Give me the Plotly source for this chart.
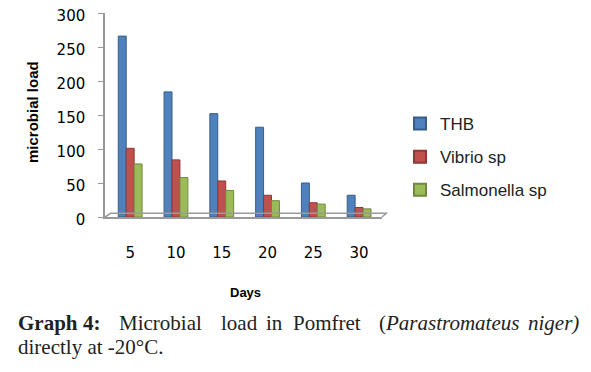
import plotly.graph_objects as go

days = ["5", "10", "15", "20", "25", "30"]
thb = [266, 184, 152, 132, 50, 32]
vibrio = [101, 84, 53, 32, 21, 14]
salmonella = [78, 58, 39, 24, 19, 12]
series_names = ["THB", "Vibrio sp", "Salmonella sp"]
colors = ["#4F81BD", "#C0504D", "#9BBB59"]
edge_colors = ["#385D8A", "#8C3836", "#71893F"]
y_ticks = [0, 50, 100, 150, 200, 250, 300]

fig = go.Figure()
for i, (name, vals) in enumerate(zip(series_names, [thb, vibrio, salmonella])):
    fig.add_trace(go.Bar(
        x=days, y=vals, name=name, legendgroup=name,
        marker=dict(color=colors[i], line=dict(color=edge_colors[i], width=1)),
    ))

OFF = 8  # page body margin
W, H = 591 - 2 * OFF, 372 - 2 * OFF
# desired on-screen plot box: x 105..382, y 13..217
PX0, PX1, PY0, PY1 = 105 - OFF, 382 - OFF, 13 - OFF, 217 - OFF
L, R, T, B = PX0, W - PX1, PY0, H - PY1
PW, PH = PX1 - PX0, PY1 - PY0


def px(x):
    return (x - OFF - PX0) / PW


def py(y):
    return (PY1 - (y - OFF)) / PH


fig.update_layout(
    width=W, height=H,
    margin=dict(l=L, r=R, t=T, b=B, pad=0, autoexpand=False),
    paper_bgcolor="white", plot_bgcolor="white",
    barmode="group", bargap=0.48, bargroupgap=0,
    showlegend=True,
    legend=dict(x=px(400), y=py(106), xanchor="left", yanchor="top",
                font=dict(family="Liberation Sans, Arial", size=17, color="#222"),
                tracegroupgap=8, bgcolor="rgba(0,0,0,0)", itemsizing="constant"),
    xaxis=dict(type="category", range=[-0.55, 5.5], showline=True, linecolor="#999",
               linewidth=1.5, ticks="", ticklabelstandoff=21, automargin=False,
               tickfont=dict(family="DejaVu Sans", size=15, color="black"),
               showgrid=False, zeroline=False),
    yaxis=dict(range=[0, 300], tickvals=y_ticks, showline=True, linecolor="#999",
               linewidth=1.5, ticks="outside", ticklen=5, tickcolor="#999",
               ticklabelstandoff=10, ticklabelshift=3, automargin=False,
               ticklabeloverflow="allow",
               tickfont=dict(family="DejaVu Sans", size=15, color="black"),
               showgrid=False, zeroline=False),
)

# 3D floor back edge
fig.add_shape(type="path", xref="paper", yref="paper",
              path="M 0 0 L 0.02 0.018 L 1.015 0.018 L 1.0 0",
              line=dict(color="#999", width=1.5))

# axis titles
fig.add_annotation(text="<b>microbial load</b>", xref="paper", yref="paper",
                   x=px(32), y=py(112), xanchor="center", yanchor="middle",
                   textangle=-90, showarrow=False,
                   font=dict(family="Liberation Sans, Arial", size=15, color="black"))
fig.add_annotation(text="<b>Days</b>", xref="paper", yref="paper",
                   x=px(245), y=py(292), xanchor="center", yanchor="middle",
                   showarrow=False,
                   font=dict(family="Liberation Sans, Arial", size=13, color="black"))

# caption (justified line via word placement)
words = [("<b>Graph</b>", 16), ("<b>4:</b>", 81), ("Microbial", 117), ("load", 219),
         ("in", 264), ("Pomfret", 291), ("(<i>Parastromateus</i>", 377), ("<i>niger)</i>", 526)]
cap_font = dict(family="Liberation Serif, Times New Roman", size=21, color="#222")
for txt, x0 in words:
    fig.add_annotation(text=txt, xref="paper", yref="paper",
                       x=px(x0), y=py(323), xanchor="left", yanchor="middle",
                       showarrow=False, font=cap_font)
fig.add_annotation(text="directly at -20°C.", xref="paper", yref="paper",
                   x=px(16), y=py(347), xanchor="left", yanchor="middle",
                   showarrow=False, font=cap_font)

fig.write_html("out.html")
